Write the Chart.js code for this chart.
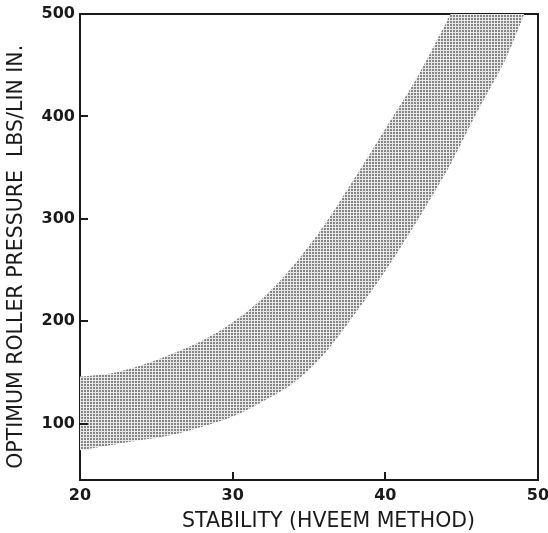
<!DOCTYPE html>
<html>
<head>
<meta charset="utf-8">
<script src="https://cdn.jsdelivr.net/npm/chart.js@4/dist/chart.umd.min.js"></script>
<style>
html,body{margin:0;padding:0;background:#fff;}
#wrap{width:548px;height:533px;}
</style>
</head>
<body>
<div id="wrap"><canvas id="c" width="548" height="533"></canvas></div>
<script>
// Data
const stability = [20, 22, 24, 26, 28, 30, 32, 34, 36, 38, 40, 42, 44, 44.3, 46, 48, 49.1];
const upperPressure = [146, 149, 157, 168, 181, 199, 223, 255, 294, 340, 388, 436, 492, 500, 500, 500, 500];
const lowerPressure = [74, 79, 84, 89, 97, 107, 122, 140, 168, 207, 249, 296, 346, 354, 404, 460, 500];
const xTickValues = [20, 30, 40, 50];
const yTickValues = [100, 200, 300, 400, 500];
const xInnerTicks = [30, 40];
const yInnerTicks = [100, 200, 300, 400];

// stipple pattern
const tile = document.createElement('canvas');
tile.width = 3; tile.height = 3;
const tctx = tile.getContext('2d');
tctx.fillStyle = '#e8e8e8';
tctx.fillRect(0, 0, 3, 3);
tctx.fillStyle = '#858585';
tctx.fillRect(0, 0, 2, 2);
const ctxMain = document.getElementById('c').getContext('2d');
const stipple = ctxMain.createPattern(tile, 'repeat');

const toPts = (ys) => stability.map((x, i) => ({x: x, y: ys[i]}));

const innerTicks = {
  id: 'innerTicks',
  afterDraw(chart) {
    const {ctx, chartArea, scales} = chart;
    ctx.save();
    ctx.strokeStyle = '#1a1a1a';
    ctx.lineWidth = 2;
    yInnerTicks.forEach(v => {
      const py = Math.round(scales.y.getPixelForValue(v));
      ctx.beginPath();
      ctx.moveTo(chartArea.left, py);
      ctx.lineTo(chartArea.left + 8, py);
      ctx.stroke();
    });
    xInnerTicks.forEach(v => {
      const px = Math.round(scales.x.getPixelForValue(v));
      ctx.beginPath();
      ctx.moveTo(px, chartArea.bottom);
      ctx.lineTo(px, chartArea.bottom - 8);
      ctx.stroke();
    });
    ctx.restore();
  }
};

const tickFont = {family: 'DejaVu Sans', size: 16, weight: 'bold'};
const titleFont = {family: 'DejaVu Sans', size: 20.5, weight: 'normal'};

new Chart(ctxMain, {
  type: 'line',
  data: {
    datasets: [
      {
        label: 'lower',
        data: toPts(lowerPressure),
        borderWidth: 0,
        pointRadius: 0,
        fill: false,
        cubicInterpolationMode: 'monotone'
      },
      {
        label: 'upper',
        data: toPts(upperPressure),
        borderWidth: 0,
        pointRadius: 0,
        backgroundColor: stipple,
        fill: '-1',
        cubicInterpolationMode: 'monotone'
      }
    ]
  },
  options: {
    responsive: false,
    animation: false,
    events: [],
    layout: {padding: 0},
    plugins: {legend: {display: false}, tooltip: {enabled: false}, title: {display: false}},
    scales: {
      x: {
        type: 'linear',
        position: 'bottom',
        min: 20, max: 50,
        afterBuildTicks: s => { s.ticks = xTickValues.map(v => ({value: v})); },
        afterFit: s => { s.height = 53; s.paddingLeft = 0; s.paddingRight = 0; },
        grid: {display: false, drawTicks: false},
        border: {display: true, color: '#1a1a1a', width: 2},
        ticks: {color: '#1a1a1a', font: tickFont, padding: 6, maxRotation: 0, autoSkip: false},
        title: {display: true, text: '      STABILITY (HVEEM METHOD)', color: '#1a1a1a', font: titleFont, padding: {top: 0, bottom: -1}}
      },
      x2: {
        type: 'linear',
        position: 'top',
        min: 20, max: 50,
        afterFit: s => { s.height = 14; s.paddingLeft = 0; s.paddingRight = 0; },
        grid: {display: false, drawTicks: false},
        border: {display: true, color: '#1a1a1a', width: 2},
        ticks: {display: false}
      },
      y: {
        type: 'linear',
        position: 'left',
        min: 45, max: 500,
        afterBuildTicks: s => { s.ticks = yTickValues.map(v => ({value: v})); },
        afterFit: s => { s.width = 80; s.paddingTop = 0; s.paddingBottom = 0; },
        grid: {display: false, drawTicks: false},
        border: {display: true, color: '#1a1a1a', width: 2},
        ticks: {color: '#1a1a1a', font: tickFont, padding: 5, autoSkip: false},
        title: {display: true, text: 'OPTIMUM ROLLER PRESSURE  LBS/LIN IN.   ', color: '#1a1a1a', font: titleFont, padding: {top: 4, bottom: 0}}
      },
      y2: {
        type: 'linear',
        position: 'right',
        min: 45, max: 500,
        afterFit: s => { s.width = 10; s.paddingTop = 0; s.paddingBottom = 0; },
        grid: {display: false, drawTicks: false},
        border: {display: true, color: '#1a1a1a', width: 2},
        ticks: {display: false}
      }
    }
  },
  plugins: [innerTicks]
});
</script>
</body>
</html>
